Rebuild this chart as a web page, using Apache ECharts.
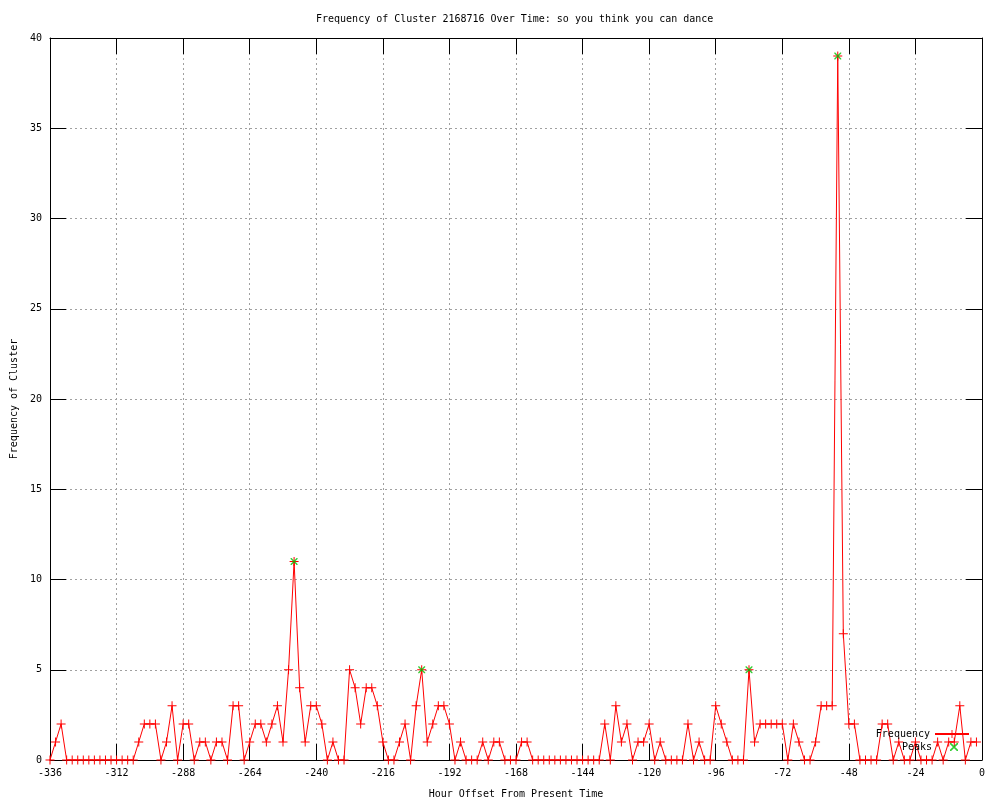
<!DOCTYPE html>
<html>
<head>
<meta charset="utf-8">
<script src="https://cdn.jsdelivr.net/npm/echarts@6/dist/echarts.min.js"></script>
<style>
html,body{margin:0;padding:0;background:#fff;}
#chart{width:1000px;height:800px;}
</style>
</head>
<body>
<div id="chart"></div>
<script>
// Hour offsets: first sample and spacing (hours)
var hourStart = -336;
var hourStep = 2;
// Frequency per 2-hour bin, from -336 to -2
var frequency = [
  0,1,2,0,0,0,0,0,0,0,0,0,0,0,0,0,1,2,2,2,
  0,1,3,0,2,2,0,1,1,0,1,1,0,3,3,0,1,2,2,1,
  2,3,1,5,11,4,1,3,3,2,0,1,0,0,5,4,2,4,4,3,
  1,0,0,1,2,0,3,5,1,2,3,3,2,0,1,0,0,0,1,0,
  1,1,0,0,0,1,1,0,0,0,0,0,0,0,0,0,0,0,0,0,
  2,0,3,1,2,0,1,1,2,0,1,0,0,0,0,2,0,1,0,0,
  3,2,1,0,0,0,5,1,2,2,2,2,2,0,2,1,0,0,1,3,
  3,3,39,7,2,2,0,0,0,0,2,2,0,1,0,0,1,0,0,0,
  1,0,1,1,3,0,1,1
];
// Detected peaks: hour offset and frequency
var peakHours = [-248, -202, -84, -52];
var peakValues = [11, 5, 5, 39];

var xTicks = { min: -336, max: 0, interval: 24 };
var yTicks = { min: 0, max: 40, interval: 5 };

var freqData = frequency.map(function (v, i) { return [hourStart + i * hourStep, v]; });
var peakData = peakHours.map(function (h, i) { return [h, peakValues[i]]; });

var FONT = '"DejaVu Sans Mono", "Liberation Mono", monospace';
var plusPath = 'path://M4,0h1v9h-1zM0,4h9v1h-9z';
var xPath = 'path://M0,0L1,0L7,6L7,7L6,7L0,1ZM6,0L7,0L7,1L1,7L0,7L0,6Z';

var chart = echarts.init(document.getElementById('chart'), null, { renderer: 'canvas' });

function mkAxis(base, extra) {
  var o = {
    type: 'value',
    min: base.min, max: base.max, interval: base.interval,
    axisLine: { show: true, onZero: false, lineStyle: { color: '#000', width: 1 } },
    axisTick: { show: true, inside: true, length: 16, lineStyle: { color: '#000', width: 1 } },
    axisLabel: { show: true, color: '#000', fontFamily: FONT, fontSize: 10, margin: 8 },
    splitLine: { show: false }
  };
  for (var k in extra) o[k] = extra[k];
  return o;
}

var option = {
  animation: false,
  backgroundColor: '#fff',
  title: {
    text: 'Frequency of Cluster 2168716 Over Time: so you think you can dance',
    left: 316, top: 14, padding: 0,
    textStyle: { fontFamily: FONT, fontSize: 10, fontWeight: 'normal', color: '#000' }
  },
  grid: { left: 50, right: 18, top: 38, bottom: 40, containLabel: false, outerBoundsMode: 'none' },
  legend: [
    {
      data: ['Frequency'], right: 30, top: 729, align: 'right', orient: 'vertical',
      itemWidth: 34, itemHeight: 10, padding: 0,
      textStyle: { fontFamily: FONT, fontSize: 10, color: '#000' }
    },
    {
      data: ['Peaks'], right: 42, top: 742, align: 'right', orient: 'vertical',
      itemWidth: 34, itemHeight: 8, padding: 0,
      textStyle: { fontFamily: FONT, fontSize: 10, color: '#000' }
    }
  ],
  xAxis: [
    mkAxis(xTicks, {
      position: 'bottom',
      name: 'Hour Offset From Present Time', nameLocation: 'middle', nameGap: 29,
      nameTextStyle: { fontFamily: FONT, fontSize: 10, color: '#000' },
      splitLine: { show: true, lineStyle: { color: '#a0a0a0', width: 1, type: [2, 3] } }
    }),
    mkAxis(xTicks, { position: 'top', axisLabel: { show: false } })
  ],
  yAxis: [
    mkAxis(yTicks, {
      position: 'left',
      name: 'Frequency of Cluster', nameLocation: 'middle', nameGap: 31, nameRotate: 90,
      nameTextStyle: { fontFamily: FONT, fontSize: 10, color: '#000' },
      splitLine: { show: true, lineStyle: { color: '#a0a0a0', width: 1, type: [2, 3] } }
    }),
    mkAxis(yTicks, { position: 'right', axisLabel: { show: false } })
  ],
  series: [
    {
      name: 'Frequency', type: 'line', data: freqData,
      xAxisIndex: 0, yAxisIndex: 0,
      symbol: plusPath, symbolSize: 9, showSymbol: true, showAllSymbol: true,
      color: '#ff0000',
      lineStyle: { color: '#ff0000', width: 1 },
      itemStyle: { color: '#ff0000' },
      z: 3
    },
    {
      name: 'Peaks', type: 'scatter', data: peakData,
      xAxisIndex: 0, yAxisIndex: 0,
      symbol: xPath, symbolSize: 7,
      color: '#00c000',
      itemStyle: { color: '#00c000' },
      z: 4
    }
  ]
};
chart.setOption(option);
</script>
</body>
</html>
